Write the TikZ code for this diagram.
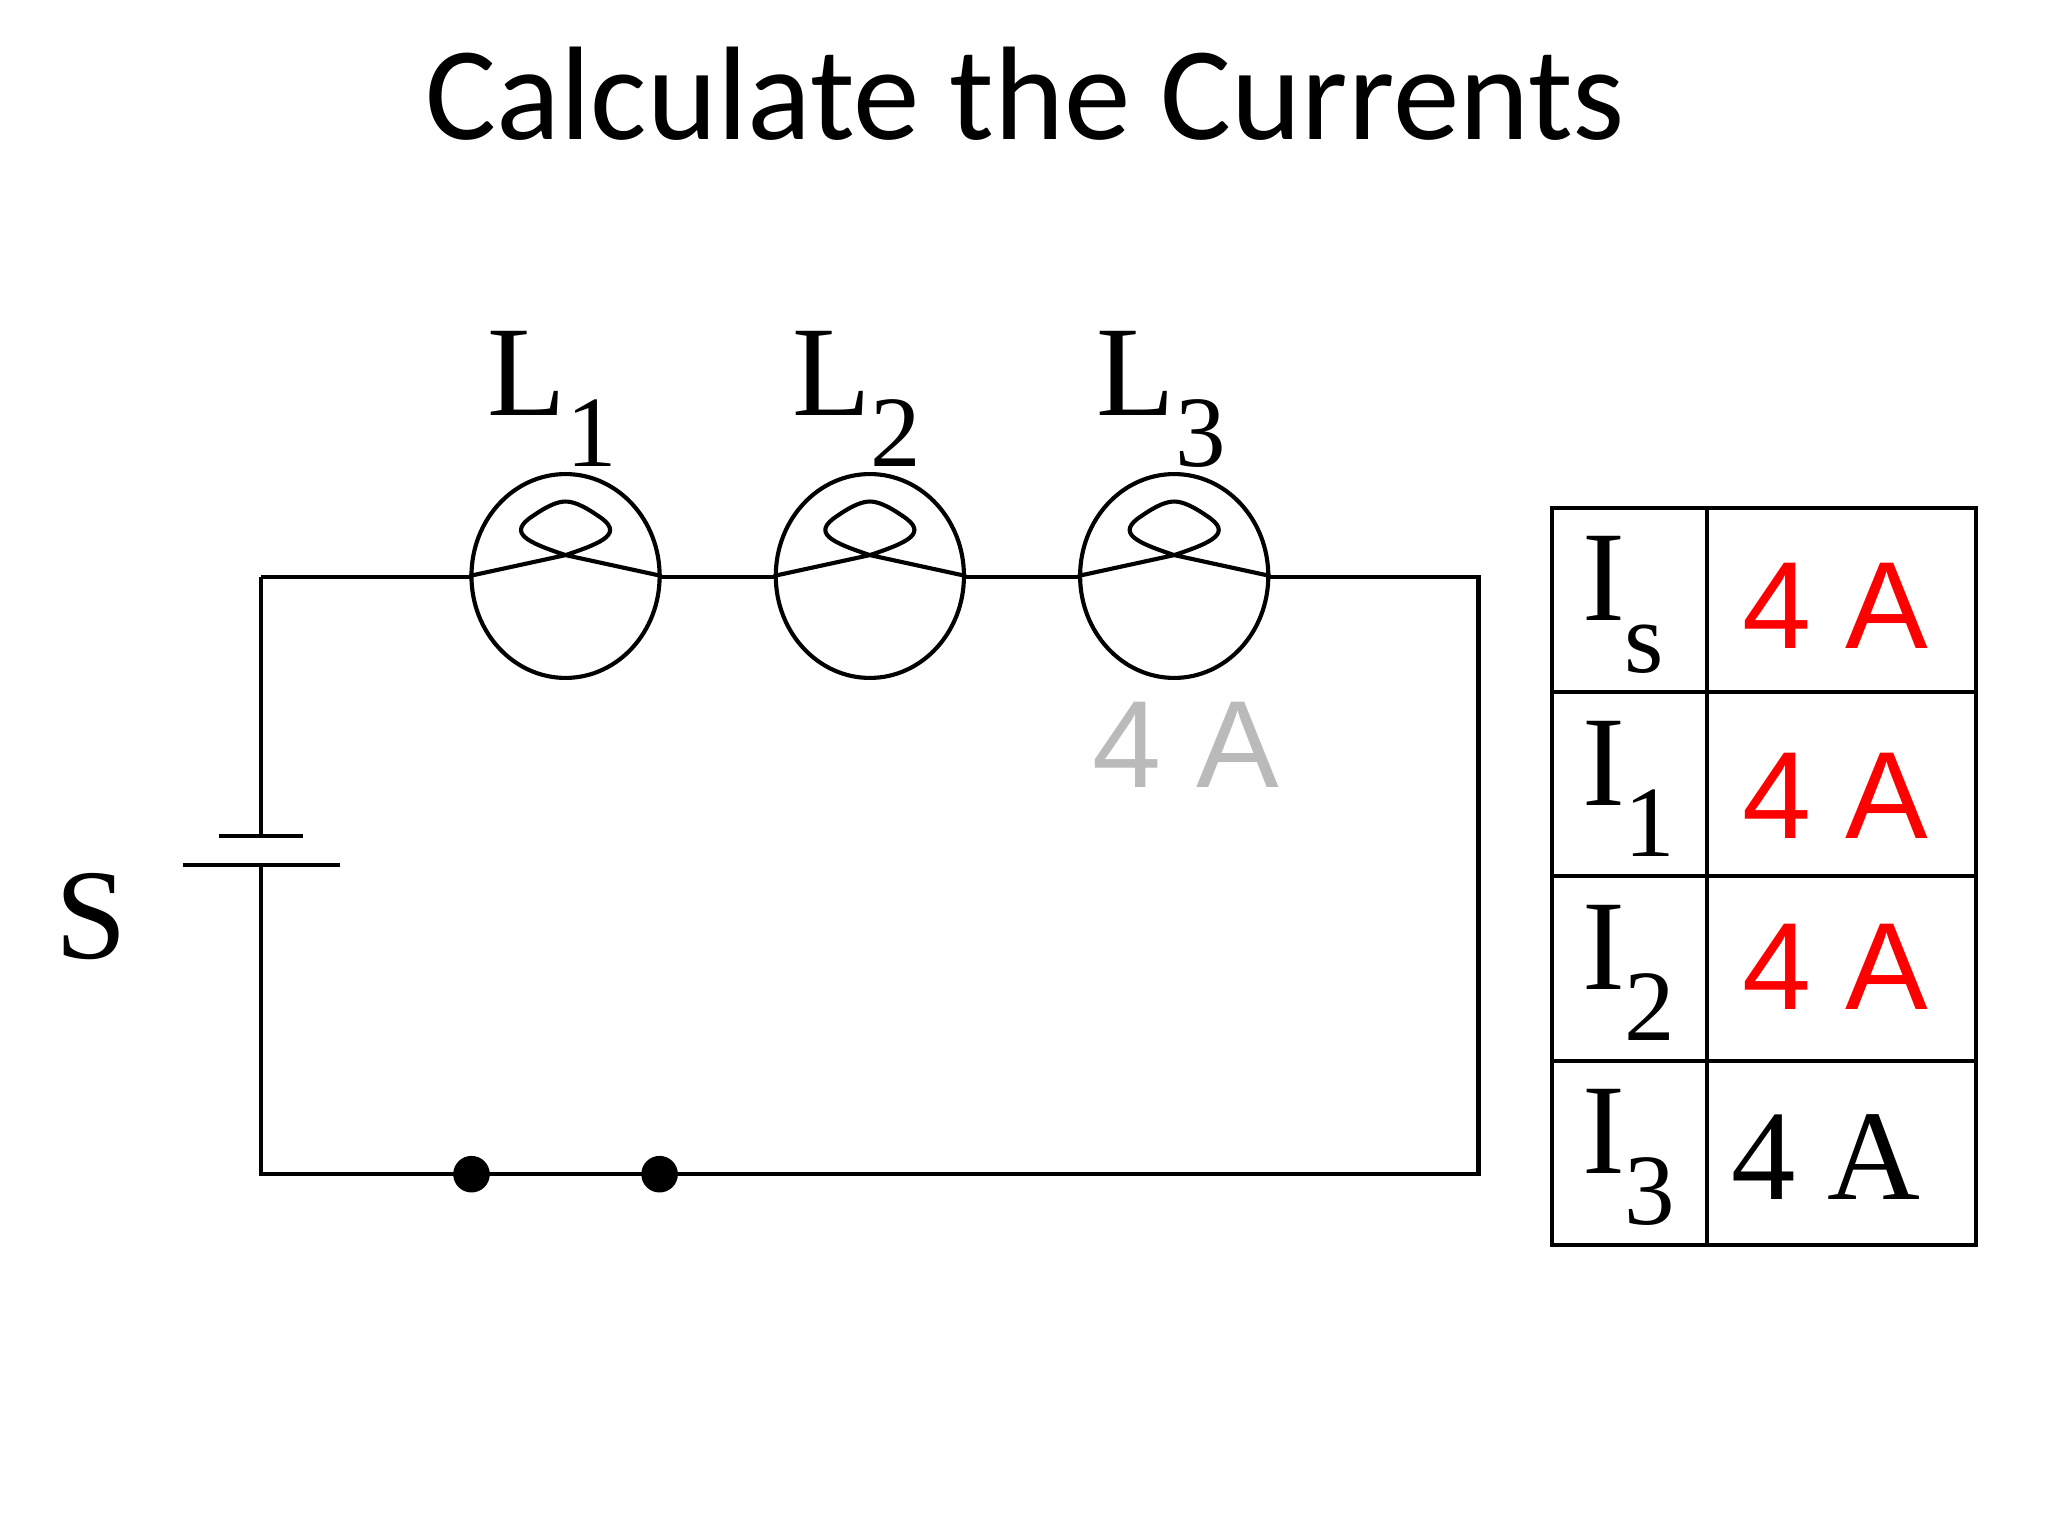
\documentclass[tikz,border=0pt]{standalone}
\usepackage{fontspec}
\usetikzlibrary{shapes.geometric}
\setmainfont{Liberation Serif}
\newfontfamily\serfont{Liberation Serif}
\newfontfamily\calfont{Carlito}
\newfontfamily\arifont{Liberation Sans}
\newcommand{\lsub}[1]{\raisebox{-0.4em}{\serfont\fontsize{22pt}{24pt}\selectfont #1}}
\begin{document}
\begin{tikzpicture}[x=0.01cm,y=-0.01cm,line width=0.9pt,
  lbl/.style={font=\serfont\fontsize{28pt}{30pt}\selectfont},
  val/.style={font=\arifont\fontsize{27pt}{30pt}\selectfont,text=red},
  bulb/.style={draw,ellipse,minimum width=1.44cm,minimum height=1.56cm,inner sep=0}]
\useasboundingbox[fill=white] (0,0) rectangle (1568,1176);
\node[font=\calfont\fontsize{29pt}{32pt}\selectfont] (title) at (785,72) {Calculate the Currents};
\coordinate (tl) at (200,442); \coordinate (tr) at (1132,442);
\coordinate (br) at (1132,899); \coordinate (bl) at (200,899);
\coordinate (bs) at (200,640); \coordinate (bl2) at (200,662);
\draw (tl) -- (tr) -- (br) -- (bl) -- (bl2);
\draw (tl) -- (bs);
\draw (168,640) -- (232,640);
\draw (140,662) -- (260,662);
\node[lbl] (S) at (70,702) {S};
\foreach \n/\x in {1/433,2/666,3/899}{
  \node[bulb,fill=white] (b\n) at (\x,441) {};
  \draw (b\n.west) -- (\x,425) .. controls (\x+30,415) and (\x+45,408) .. (\x+25,395)
     .. controls (\x+12,386) and (\x+5,384) .. (\x,384)
     .. controls (\x-5,384) and (\x-12,386) .. (\x-25,395)
     .. controls (\x-45,408) and (\x-30,415) .. (\x,425) -- (b\n.east);
  \node[lbl,anchor=base] (L\n) at (\x-10,318) {L\lsub{\n}};
}
\node[font=\arifont\fontsize{27pt}{30pt}\selectfont,text=black!27] (g) at (908,570) {4 A};
\fill (361,899) circle (0.14cm) (505,899) circle (0.14cm);
\draw (1188,389) rectangle (1513,953);
\draw (1307,389) -- (1307,953);
\foreach \s/\y [count=\i] in {s/463,1/604,2/745,3/886}{
  \node[lbl,anchor=west] (I\i) at (1198,\y) {I\lsub{\s}};
}
\foreach \y in {530,671,812} \draw (1188,\y) -- (1513,\y);
\node[val] (v1) at (1405,464) {4 A};
\node[val] (v2) at (1405,609) {4 A};
\node[val] (v3) at (1405,740) {4 A};
\node[lbl] (v4) at (1398,886) {4 A};
\end{tikzpicture}
\end{document}
